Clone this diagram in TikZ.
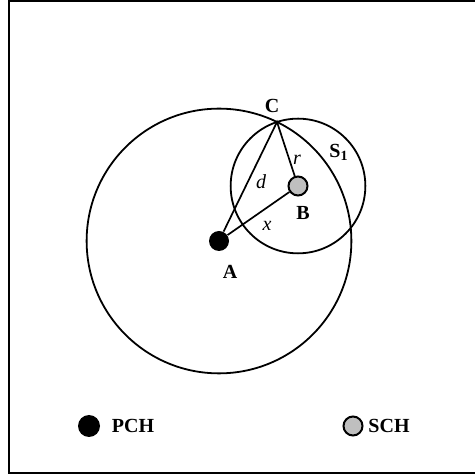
\documentclass[tikz,border=0pt]{standalone}
\usepackage{fontspec}
\setmainfont{Liberation Serif}
\usepackage{tikz}
\usetikzlibrary{calc}

\begin{document}
\begin{tikzpicture}[x=0.5pt,y=0.5pt,font=\fontsize{10}{12}\selectfont\bfseries,
  pch/.style={circle,fill=black,inner sep=0pt,minimum size=10pt},
  sch/.style={circle,draw,line width=1pt,fill=black!25,inner sep=0pt,minimum size=9.5pt},
  lbl/.style={inner sep=0pt}]
  \useasboundingbox (0,0) rectangle (475,476); % 図全体の範囲
  \draw[line width=1pt] (475,475) -- (9,475) -- (9,3) -- (475,3); % 外枠（右側は切れている）

  \coordinate (C) at (277,354); % 二つの円の交点C
  \node[pch] (A) at (219,235) {}; % PCHの点A
  \node[sch] (B) at (298,290) {}; % SCHの点B

  % Aを中心としCを通る大きい円
  \draw[line width=0.9pt] let \p1=($(C)-(A)$), \n1={veclen(\x1,\y1)} in (A) circle[radius=\n1];
  % Bを中心としCを通る円S1
  \draw[line width=0.9pt] let \p1=($(C)-(B)$), \n1={veclen(\x1,\y1)} in (B) circle[radius=\n1];

  \draw[line width=0.85pt] (A) -- (C) -- (B); % 線分d, r
  \draw[line width=0.85pt] (A) -- (B); % 線分x

  \node[lbl] (labC) at (272,370) {C};
  \node[lbl] (labS) at (339,324) {S\textsubscript{1}};
  \node[lbl] (labr) at (297,316) {\mdseries\itshape r};
  \node[lbl] (labd) at (261,294) {\mdseries\itshape d};
  \node[lbl] (labx) at (267,250) {\mdseries\itshape x};
  \node[lbl] (labB) at (303,263) {B};
  \node[lbl] (labA) at (230,204) {A};

  % 凡例
  \node[pch,minimum size=11pt] (pchmark) at (89,50) {};
  \node[lbl] (pchtxt) at (133,50) {PCH};
  \node[sch] (schmark) at (353,50) {};
  \node[lbl] (schtxt) at (389,50) {SCH};
\end{tikzpicture}
\end{document}
